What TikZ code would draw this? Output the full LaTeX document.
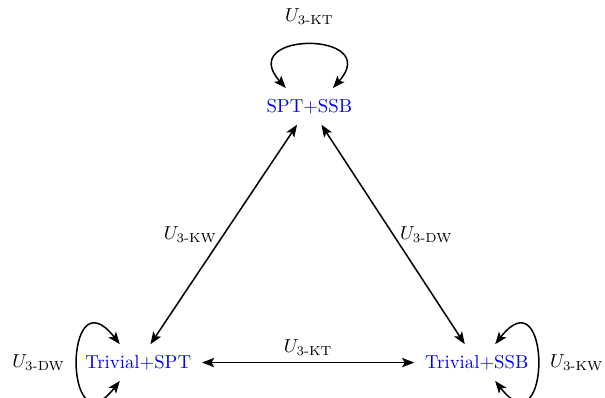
\documentclass[tikz,border=0pt]{standalone}
\usepackage{amsmath,amssymb}
\usepackage{tikz}
\usetikzlibrary{arrows.meta,positioning}

\begin{document}
\begin{tikzpicture}[
    on grid,
    node distance=4.79cm and 3.2cm,
    phase/.style={text=blue, outer sep=2.5pt},
    arrow/.style={<->, >={Stealth[length=6.5pt, width=5pt, inset=1.5pt]}, thick}
]

% Phases
\node[phase] (sptssb) {SPT+SSB};
\node[phase, below left=of sptssb] (trivspt) {Trivial+SPT};
\node[phase, right=6.33cm of trivspt] (trivssb) {Trivial+SSB};

% Frame
\useasboundingbox ([shift={(-73.5pt,-18.35pt)}]trivspt.center) rectangle ++(321.8pt,211.2pt);

% Transitions
\draw[arrow] (sptssb) -- (trivspt) node[midway, left] {$U_{\text{3-KW}}$};
\draw[arrow] (sptssb) -- (trivssb) node[midway, right] {$U_{\text{3-DW}}$};
\draw[arrow] (trivspt) -- (trivssb) node[midway, above] {$U_{\text{3-KT}}$};

% Loops
\draw[arrow] (sptssb.142) to[out=132, in=48, looseness=4.2] node[above=7pt] {$U_{\text{3-KT}}$} (sptssb.38);
\draw[arrow] (trivspt.135) to[out=128, in=232, looseness=6.4] node[left=3pt] {$U_{\text{3-DW}}$} (trivspt.225);
\draw[arrow] (trivssb.45) to[out=52, in=-52, looseness=6.4] node[right=3pt] {$U_{\text{3-KW}}$} (trivssb.-45);

\end{tikzpicture}
\end{document}
